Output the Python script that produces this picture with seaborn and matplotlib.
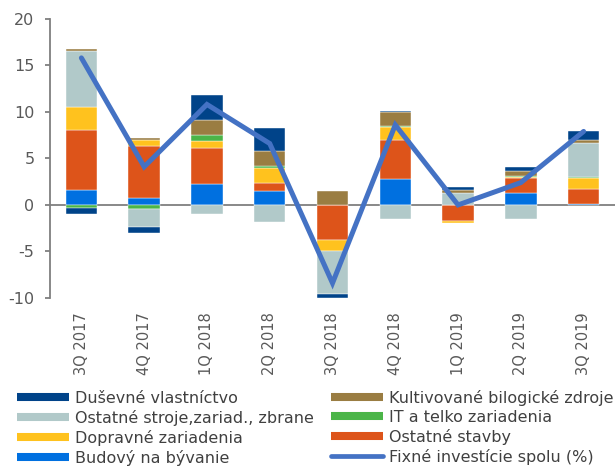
import numpy as np
import pandas as pd
import matplotlib
matplotlib.use('Agg')
import matplotlib.pyplot as plt
from matplotlib.lines import Line2D
import seaborn as sns

quarters = ["3Q 2017", "4Q 2017", "1Q 2018", "2Q 2018", "3Q 2018",
            "4Q 2018", "1Q 2019", "2Q 2019", "3Q 2019"]

# contributions, bottom-to-top stacking order
budovy = [1.6, 0.7, 2.3, 1.5, 0.0, 2.8, 0.0, 1.25, 0.05]
ostatne_stavby = [6.5, 5.6, 3.8, 0.9, -3.8, 4.2, -1.7, 1.6, 1.7]
dopravne = [2.4, 0.7, 0.8, 1.6, -1.1, 1.4, -0.25, 0.15, 1.15]
it_telko = [-0.3, -0.4, 0.6, 0.2, 0.0, 0.1, 0.0, 0.15, 0.1]
ostatne_stroje = [6.0, -2.0, -1.0, -1.8, -4.7, -1.5, 1.3, -1.5, 3.7]
kultivovane = [0.3, 0.15, 1.6, 1.6, 1.5, 1.5, 0.35, 0.55, 0.25]
dusevne = [-0.7, -0.6, 2.75, 2.5, -0.35, 0.1, 0.3, 0.35, 0.95]
spolu = [15.8, 4.1, 10.8, 6.6, -8.4, 8.6, 0.0, 2.4, 7.9]

series = [
    ("Budový na bývanie", budovy, "#0070E0"),
    ("Ostatné stavby", ostatne_stavby, "#DD541A"),
    ("Dopravné zariadenia", dopravne, "#FFC21E"),
    ("IT a telko zariadenia", it_telko, "#4BB548"),
    ("Ostatné stroje,zariad., zbrane", ostatne_stroje, "#B1C9C9"),
    ("Kultivované bilogické zdroje", kultivovane, "#9A7D42"),
    ("Duševné vlastníctvo", dusevne, "#004389"),
]
line_color = "#4472C4"
line_label = "Fixné investície spolu (%)"

sns.set_style("white")
plt.rcParams['font.family'] = ['DejaVu Sans']
plt.rcParams['font.size'] = 10
plt.rcParams['axes.unicode_minus'] = False

fig = plt.figure(figsize=(6.15, 4.74), dpi=100)
ax = fig.add_axes([0.0813, 0.3713, 0.9187, 0.589])

x = np.arange(len(quarters))
pos_base = np.zeros(len(quarters))
neg_base = np.zeros(len(quarters))
for name, vals, col in series:
    v = np.array(vals)
    bottom = np.where(v >= 0, pos_base, neg_base)
    ax.bar(x, v, bottom=bottom, width=0.5, color=col, edgecolor="white",
           linewidth=0.3, zorder=2)
    pos_base = pos_base + np.where(v >= 0, v, 0)
    neg_base = neg_base + np.where(v < 0, v, 0)

df = pd.DataFrame({"x": x, "spolu": spolu})
sns.lineplot(data=df, x="x", y="spolu", ax=ax, color=line_color, lw=3.6,
             zorder=3, solid_capstyle="round", solid_joinstyle="miter")

ax.set_xlim(-0.5, 8.5)
ax.set_ylim(-10, 20)
ax.set_yticks(np.arange(-10, 21, 5))
ax.set_xlabel("")
ax.set_ylabel("")

grey = "#7F7F7F"
for s in ["top", "right"]:
    ax.spines[s].set_visible(False)
ax.spines["left"].set_color(grey)
ax.spines["left"].set_linewidth(1.3)
ax.spines["bottom"].set_position(("data", 0))
ax.spines["bottom"].set_color(grey)
ax.spines["bottom"].set_linewidth(1.3)
ax.spines["bottom"].set_zorder(1)

ax.tick_params(axis="y", direction="out", length=3.6, width=1.3, color=grey,
               labelcolor="#595959", labelsize=11.5, pad=7.5, left=True)
ax.set_xticks(x)
ax.tick_params(axis="x", which="major", length=0, labelbottom=False)
ax.set_xticks(np.arange(0.5, 8.5, 1), minor=True)
ax.tick_params(axis="x", which="minor", direction="out", length=3,
               width=1.3, color=grey)

sec = ax.secondary_xaxis(0.0)
sec.set_xticks(x)
sec.set_xticklabels(quarters, rotation=90, color="#595959", fontsize=10.5)
sec.tick_params(length=0, pad=10)
sec.spines["bottom"].set_visible(False)

handles = []
order = [6, 4, 2, 0, 5, 3, 1]
for i in order:
    handles.append(Line2D([], [], color=series[i][2], lw=5.8,
                          solid_capstyle="butt", label=series[i][0]))
handles.append(Line2D([], [], color=line_color, lw=3.4,
                      solid_capstyle="round", label=line_label))

leg = fig.legend(handles=handles, ncol=2, loc="upper left",
                 bbox_to_anchor=(0.0276, 0.178), frameon=False, fontsize=11.5,
                 handlelength=3.25, handletextpad=0.37, labelspacing=0.26,
                 columnspacing=1.1, borderaxespad=0, borderpad=0)
for t in leg.get_texts():
    t.set_color("#404040")

fig.savefig("out.png", dpi=100)
